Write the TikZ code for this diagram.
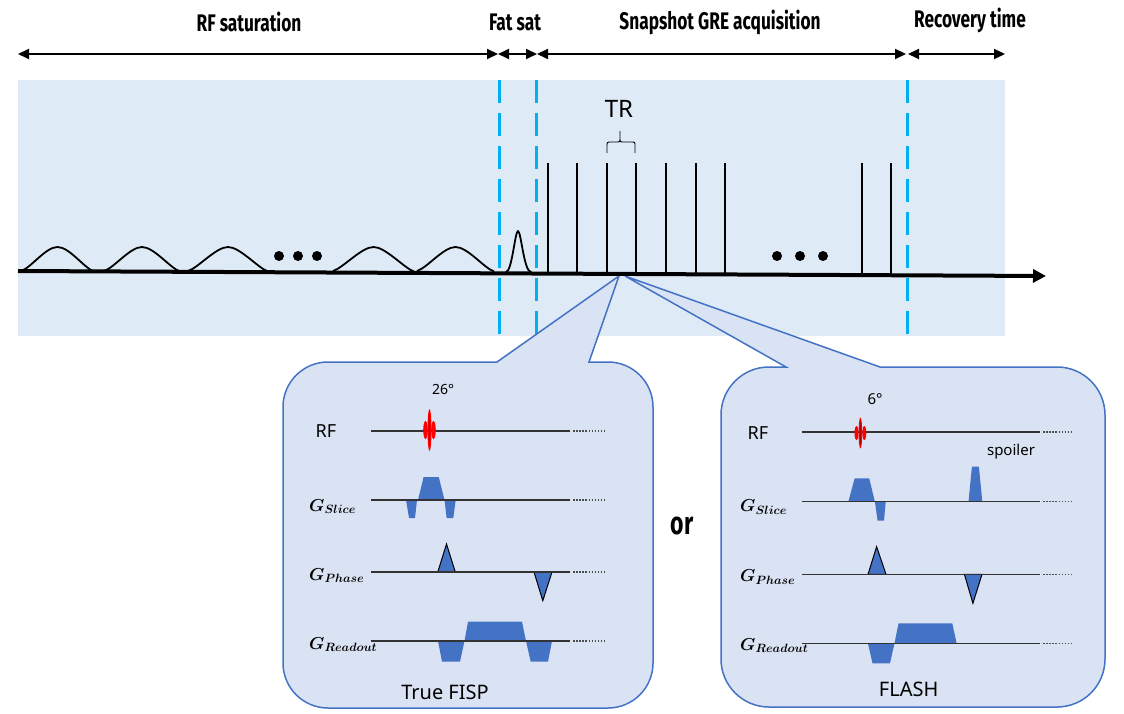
\documentclass[tikz,border=0pt]{standalone}
\usepackage{fontspec}
\setmainfont{Noto Sans}
\newfontfamily\titlefont[FakeStretch=0.72]{Fira Sans}
\usetikzlibrary{arrows.meta}
\definecolor{bgblue}{HTML}{DEEBF7}
\definecolor{callfill}{HTML}{DAE3F3}
\definecolor{callline}{HTML}{4472C4}
\definecolor{dashcyan}{HTML}{00B0F0}
\definecolor{gblue}{HTML}{4472C4}
\begin{document}
\begin{tikzpicture}[x=1pt,y=-1pt,
  span/.style={line width=2pt,{Triangle[length=11pt,width=10pt]}-{Triangle[length=11pt,width=10pt]}},
  ttl/.style={font=\titlefont\bfseries\fontsize{24}{26}\selectfont, inner sep=0pt},
  sepline/.style={draw=dashcyan,line width=3pt,dash pattern=on 23pt off 10pt},
  grel/.style={line width=2pt},
  bump/.style={line width=1.8pt, line join=round},
  callout/.style={fill=callfill,draw=callline,line width=1.5pt},
  seqline/.style={line width=1.2pt, draw=black!80},
  seqdot/.style={line width=1.2pt, draw=black!70, dash pattern=on 1.5pt off 1.6pt},
  grad/.style={fill=gblue},
  tri/.style={fill=gblue,draw=black,line width=1pt},
  lab/.style={font=\fontsize{18}{20}\selectfont, inner sep=0pt},
  glab/.style={font=\fontsize{17}{20}\selectfont\mathversion{bold}, inner sep=0pt, anchor=base west},
  rfp/.style={fill=red},
]
\useasboundingbox (0,0) rectangle (1124,714);

% background
\fill[bgblue] (18,80) rectangle (1005,336);

% separators
\foreach \x in {499,536,907} \draw[sepline] (\x,80) -- (\x,336);

% callouts
\coordinate (tipL) at (619,276);
\coordinate (tipR) at (625,276);
\path[callout] (283,540) [rounded corners=45pt] -- (283,362) [sharp corners] -- (497,362) -- (tipL) -- (589,362)
  [rounded corners=45pt] -- (653,362) -- (653,708) -- (283,708) -- cycle;
\path[callout] (721,540) [rounded corners=48pt] -- (721,367) [sharp corners] -- (786,367) -- (tipR) -- (880,367)
  [rounded corners=48pt] -- (1105,367) -- (1105,707) -- (721,707) -- cycle;

% top span arrows
\coordinate (t0) at (18,54);
\coordinate (t1) at (498,54);
\coordinate (t2) at (537,54);
\coordinate (t3) at (906,54);
\coordinate (t4) at (908,54);
\coordinate (t5) at (1005,54);
\draw[span] (t0) -- (t1);
\draw[span] (t1) -- (t2);
\draw[span] (t2) -- (t3);
\draw[span] (t4) -- (t5);
\node[ttl] (lrf) at (249,22) {RF saturation};
\node[ttl] (lfs) at (515,22) {Fat sat};
\node[ttl] (lsg) at (720,22) {Snapshot GRE acquisition};
\node[ttl] (lrt) at (970,20) {Recovery time};

% saturation bumps
\foreach \a/\b in {21/94,104/180,188/268,333/414,417/494}
  \draw[bump] (\a,271) .. controls ({\a+10},268) and ({(\a+\b)/2-12},247) .. ({(\a+\b)/2},247)
     .. controls ({(\a+\b)/2+12},247) and ({\b-10},268) .. (\b,271.5);
\foreach \x in {279,298,317} \fill (\x,256) circle (5);

% fat sat pulse
\draw[bump] (506,272) .. controls (512,272) and (515,231) .. (518,231)
   .. controls (521,231) and (524,272) .. (531,272);

% GRE lines
\foreach \x in {548,577,607,636,666,696,725,862,891} \draw[grel] (\x,163) -- (\x,274);
\foreach \x in {777,800,823} \fill (\x,256) circle (5);

% TR brace
\draw[line width=0.9pt] (607,153) -- (607,146) .. controls (607,142) .. (611,142) -- (616,142)
  .. controls (620,142) .. (620,138) -- (620,131) -- (620,138)
  .. controls (620,142) .. (624,142) -- (631,142) .. controls (635,142) .. (635,146) -- (635,153);
\node[font=\fontsize{24}{26}\selectfont, inner sep=0pt] (tr) at (619,108.5) {TR};

% axis
\coordinate (ax0) at (18,271);
\coordinate (ax1) at (1046,276);
\draw[line width=4pt,-{Triangle[length=13pt,width=13pt]}] (ax0) -- (ax1);

% ---------- left box: True FISP ----------
\fill[grad] (406,500) -- (417,500) -- (415,518) -- (409,518) -- cycle;
\fill[grad] (418,500) -- (423.6,477) -- (438.8,477) -- (444.5,500) -- cycle;
\fill[grad] (444.5,500) -- (455.7,500) -- (453.3,518) -- (446.6,518) -- cycle;
\filldraw[tri] (437.8,572) -- (446.5,544) -- (455.3,572) -- cycle;
\filldraw[tri] (534,572) -- (542.8,600.7) -- (552,572) -- cycle;
\fill[grad] (438,641) -- (464.5,641) -- (460,661.7) -- (442,661.7) -- cycle;
\fill[grad] (464.5,641) -- (468,621.7) -- (522,621.7) -- (526,641) -- cycle;
\fill[grad] (526,641) -- (552,641) -- (548,661.7) -- (530.7,661.7) -- cycle;
\foreach \y in {431,500,572,641} {
  \draw[seqline] (370.5,\y) -- (570,\y);
  \draw[seqdot] (573,\y) -- (605,\y);
}
\fill[rfp] (425.5,430) ellipse [x radius=2.3, y radius=9];
\fill[rfp] (433.5,430) ellipse [x radius=2.3, y radius=9];
\fill[rfp] (429.5,430) ellipse [x radius=2, y radius=21];
\fill[red!70!black] (429.5,430) ellipse [x radius=0.7, y radius=17];
\node[font=\fontsize{14}{16}\selectfont, inner sep=0pt] (a26) at (443,390) {26°};
\node[lab] (rfL) at (326,431) {RF};
\node[glab] (gsL) at (309,511) {$G_{Slice}$};
\node[glab] (gpL) at (309,580) {$G_{Phase}$};
\node[glab] (grL) at (309,649) {$G_{Readout}$};
\node[font=\fontsize{20}{22}\selectfont, inner sep=0pt] (tf) at (445,692) {True FISP};

% ---------- right box: FLASH ----------
\fill[grad] (848.3,501.7) -- (854.7,478.3) -- (869.2,478.3) -- (874.9,501.7) -- cycle;
\fill[grad] (874.9,501.7) -- (885.7,501.7) -- (884,520.7) -- (877.6,520.7) -- cycle;
\fill[grad] (968.5,501.7) -- (971.9,466.7) -- (978.9,466.7) -- (982.3,501.7) -- cycle;
\filldraw[tri] (868,574.3) -- (876.6,546.7) -- (886,574.3) -- cycle;
\filldraw[tri] (964.4,574.3) -- (972.9,603.3) -- (982,574.3) -- cycle;
\fill[grad] (868,643.7) -- (894.4,643.7) -- (890,663.3) -- (872.5,663.3) -- cycle;
\fill[grad] (894.4,643.7) -- (898.5,623.3) -- (952.3,623.3) -- (956.7,643.7) -- cycle;
\foreach \y in {432,501.7,574.3,643.7} {
  \draw[seqline] (801.5,\y) -- (1040,\y);
  \draw[seqdot] (1043,\y) -- (1072,\y);
}
\fill[rfp] (856.5,433) ellipse [x radius=2, y radius=7];
\fill[rfp] (864.3,433) ellipse [x radius=2, y radius=7];
\fill[rfp] (860.4,433) ellipse [x radius=1.8, y radius=15.5];
\fill[red!70!black] (860.4,433) ellipse [x radius=0.6, y radius=12];
\node[font=\fontsize{15}{17}\selectfont, inner sep=0pt] (a6) at (875,399) {6°};
\node[lab] (rfR) at (758,433) {RF};
\node[font=\fontsize{15}{17}\selectfont, inner sep=0pt] (sp) at (1011,452) {spoiler};
\node[glab] (gsR) at (740,511.7) {$G_{Slice}$};
\node[glab] (gpR) at (740,581.7) {$G_{Phase}$};
\node[glab] (grR) at (740,650) {$G_{Readout}$};
\node[font=\fontsize{20}{22}\selectfont, inner sep=0pt] (fl) at (908.6,689) {FLASH};

\node[font=\titlefont\bfseries\fontsize{32}{34}\selectfont, inner sep=0pt] (orl) at (682,526) {or};
\end{tikzpicture}
\end{document}
